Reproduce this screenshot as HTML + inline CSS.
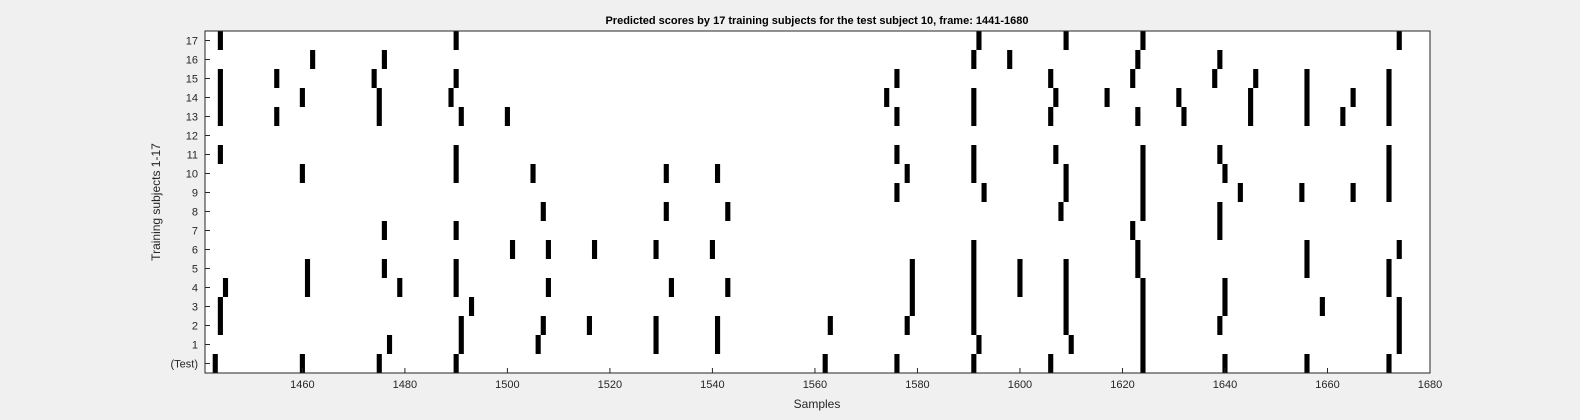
<!DOCTYPE html>
<html><head><meta charset="utf-8"><style>
body{margin:0;background:#f0f0f0;}
svg{display:block;font-family:"Liberation Sans",Arial,sans-serif;}
</style></head><body>
<svg id="chart" width="1580" height="420" viewBox="0 0 1580 420">
<rect x="205" y="31" width="1225" height="342" fill="#fff"/>
<g id="marks"></g>
<g id="axes"></g>
<rect x="205" y="31" width="1225" height="342" fill="none" stroke="#262626" stroke-width="1"/>
<text x="817" y="24" text-anchor="middle" font-size="11" font-weight="bold" fill="#000">Predicted scores by 17 training subjects for the test subject 10, frame: 1441-1680</text>
<text x="817" y="408" text-anchor="middle" font-size="12" fill="#262626">Samples</text>
<text transform="translate(160,202) rotate(-90)" text-anchor="middle" font-size="12" fill="#262626">Training subjects 1-17</text>
</svg>
<script>
const rowLabels = ["(Test)","1","2","3","4","5","6","7","8","9","10","11","12","13","14","15","16","17"];
const xTicks = [1460,1480,1500,1520,1540,1560,1580,1600,1620,1640,1660,1680];
const rowTest = [1443,1460,1475,1490,1562,1576,1591,1606,1624,1640,1656,1672];
const row1 = [1477,1491,1506,1529,1541,1592,1610,1624,1674];
const row2 = [1444,1491,1507,1516,1529,1541,1563,1578,1591,1609,1624,1639,1674];
const row3 = [1444,1493,1579,1591,1609,1624,1640,1659,1674];
const row4 = [1445,1461,1479,1490,1508,1532,1543,1579,1591,1600,1609,1624,1640,1672];
const row5 = [1461,1476,1490,1579,1591,1600,1609,1623,1656,1672];
const row6 = [1501,1508,1517,1529,1540,1591,1623,1656,1674];
const row7 = [1476,1490,1622,1639];
const row8 = [1507,1531,1543,1608,1624,1639];
const row9 = [1576,1593,1609,1624,1643,1655,1665,1672];
const row10 = [1460,1490,1505,1531,1541,1578,1591,1609,1624,1640,1672];
const row11 = [1444,1490,1576,1591,1607,1624,1639,1672];
const row12 = [];
const row13 = [1444,1455,1475,1491,1500,1576,1591,1606,1623,1632,1645,1656,1663,1672];
const row14 = [1444,1460,1475,1489,1574,1591,1607,1617,1631,1645,1656,1665,1672];
const row15 = [1444,1455,1474,1490,1576,1606,1622,1638,1646,1656,1672];
const row16 = [1462,1476,1591,1598,1623,1639];
const row17 = [1444,1490,1592,1609,1624,1674];
const rows = [rowTest,row1,row2,row3,row4,row5,row6,row7,row8,row9,row10,row11,row12,row13,row14,row15,row16,row17];

const X0=205, X1=1430, Y0=31, Y1=373, D0=1441, D1=1680;
const k=(X1-X0)/(D1-D0);
function xS(v){return X0+(v-D0)*k;}
const rh=(Y1-Y0)/rowLabels.length;
function yTop(i){return Y1-(i+1)*rh;}
const NS="http://www.w3.org/2000/svg";
const gm=document.getElementById('marks');
rows.forEach((r,i)=>{
  r.forEach(v=>{
    const el=document.createElementNS(NS,'rect');
    
    
    const x=Math.max(X0,xS(v-0.5)), x2=Math.min(X1,xS(v+0.5));
    el.setAttribute('x',x);el.setAttribute('width',x2-x);
    el.setAttribute('y',yTop(i));el.setAttribute('height',rh);
    el.setAttribute('fill','#000');
    gm.appendChild(el);
  });
});
const ga=document.getElementById('axes');
rowLabels.forEach((l,i)=>{
  const y=yTop(i)+rh/2;
  const t=document.createElementNS(NS,'text');
  
  
  t.setAttribute('x',198);t.setAttribute('y',y+4);
  t.setAttribute('text-anchor','end');t.setAttribute('font-size','11');t.setAttribute('fill','#262626');
  t.textContent=l;ga.appendChild(t);
  const tk=document.createElementNS(NS,'line');
  
  
  tk.setAttribute('x1',X0);tk.setAttribute('x2',X0+5);tk.setAttribute('y1',y);tk.setAttribute('y2',y);
  tk.setAttribute('stroke','#262626');ga.appendChild(tk);
});
xTicks.forEach(v=>{
  const x=xS(v);
  const t=document.createElementNS(NS,'text');
  
  
  t.setAttribute('x',x);t.setAttribute('y',388);
  t.setAttribute('text-anchor','middle');t.setAttribute('font-size','11');t.setAttribute('fill','#262626');
  t.textContent=v;ga.appendChild(t);
  const tk=document.createElementNS(NS,'line');
  
  
  tk.setAttribute('x1',x);tk.setAttribute('x2',x);tk.setAttribute('y1',Y1);tk.setAttribute('y2',Y1-5);
  tk.setAttribute('stroke','#262626');ga.appendChild(tk);
});
</script>
</body></html>
